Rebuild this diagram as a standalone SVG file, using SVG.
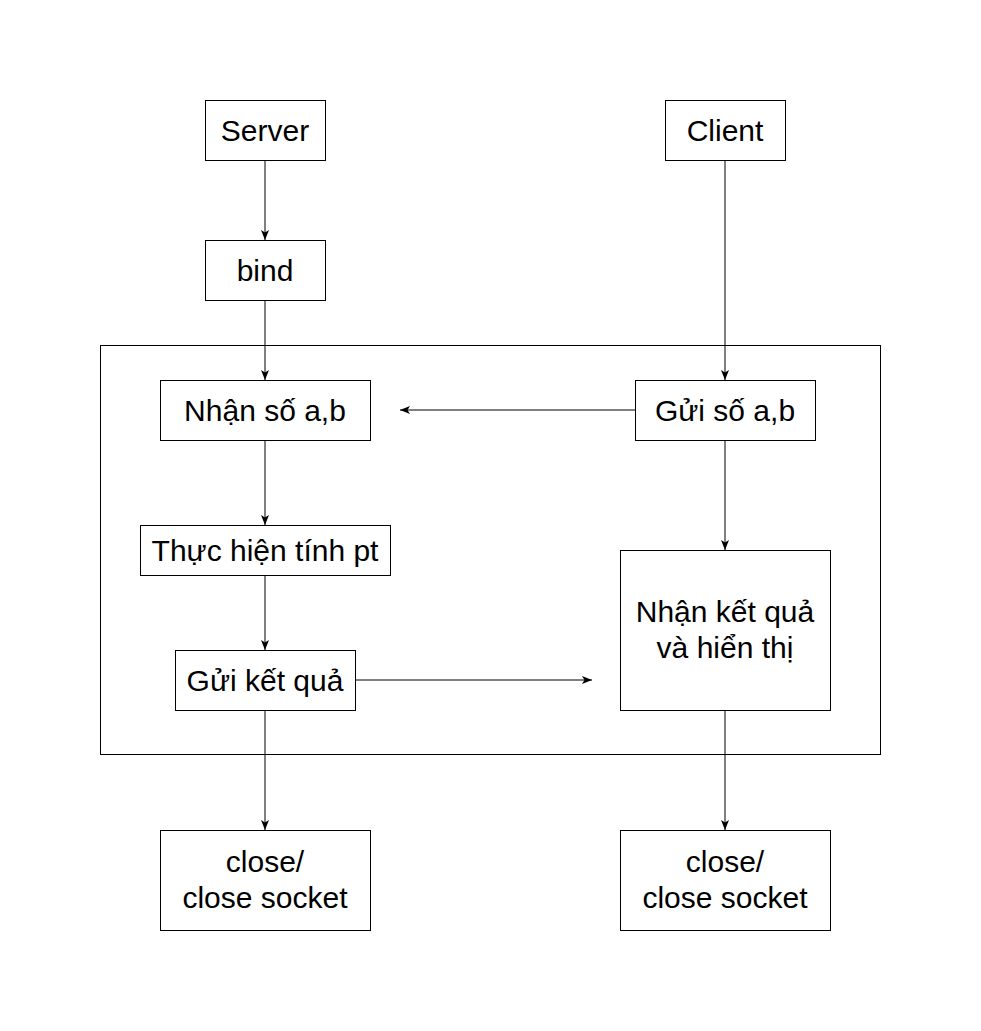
<svg xmlns="http://www.w3.org/2000/svg" width="981" height="1031" viewBox="0 0 981 1031">
<style>
.box{fill:#ffffff;stroke:#000000;stroke-width:1}
.frame{fill:none;stroke:#000000;stroke-width:1}
.lbl{font-family:"Liberation Sans",Arial,Helvetica,sans-serif;font-size:30px;fill:#000000;text-anchor:middle}
.edge{fill:none;stroke:#000000;stroke-width:1}
</style>
<defs>
<marker id="arr" markerUnits="userSpaceOnUse" markerWidth="12" markerHeight="10" viewBox="0 0 12 10" refX="10" refY="5" orient="auto">
<path d="M0,1 L10,5 L0,9 L2.5,5 Z" fill="#000000"/>
</marker>
</defs>
<rect width="981" height="1031" fill="#ffffff"/>
<g id="container"><rect class="frame" x="100.5" y="345.5" width="780" height="409"/></g>
<g id="connectors">
<path class="edge" d="M265,160 L265,240" marker-end="url(#arr)"/>
<path class="edge" d="M265,300 L265,380" marker-end="url(#arr)"/>
<path class="edge" d="M725,160 L725,380" marker-end="url(#arr)"/>
<path class="edge" d="M635,410 L400,410" marker-end="url(#arr)"/>
<path class="edge" d="M265,440 L265,525" marker-end="url(#arr)"/>
<path class="edge" d="M725,440 L725,550" marker-end="url(#arr)"/>
<path class="edge" d="M265,575 L265,650" marker-end="url(#arr)"/>
<path class="edge" d="M355,680 L592,680" marker-end="url(#arr)"/>
<path class="edge" d="M265,710 L265,830" marker-end="url(#arr)"/>
<path class="edge" d="M725,710 L725,830" marker-end="url(#arr)"/>
</g>
<g id="server"><rect class="box" x="205.5" y="100.5" width="120" height="60"/><text class="lbl" x="265" y="141">Server</text></g>
<g id="client"><rect class="box" x="665.5" y="100.5" width="120" height="60"/><text class="lbl" x="725" y="141">Client</text></g>
<g id="bind"><rect class="box" x="205.5" y="240.5" width="120" height="60"/><text class="lbl" x="265" y="281">bind</text></g>
<g id="nhan-so"><rect class="box" x="160.5" y="380.5" width="210" height="60"/><text class="lbl" x="265" y="421">Nhận số a,b</text></g>
<g id="gui-so"><rect class="box" x="635.5" y="380.5" width="180" height="60"/><text class="lbl" x="725" y="421">Gửi số a,b</text></g>
<g id="thuc-hien"><rect class="box" x="140.5" y="525.5" width="250" height="50"/><text class="lbl" x="265" y="561">Thực hiện tính pt</text></g>
<g id="gui-ket-qua"><rect class="box" x="175.5" y="650.5" width="180" height="60"/><text class="lbl" x="265" y="691">Gửi kết quả</text></g>
<g id="nhan-ket-qua"><rect class="box" x="620.5" y="550.5" width="210" height="160"/><text class="lbl" x="725" y="622">Nhận kết quả</text><text class="lbl" x="725" y="658">và hiển thị</text></g>
<g id="close-server"><rect class="box" x="160.5" y="830.5" width="210" height="100"/><text class="lbl" x="265" y="872">close/</text><text class="lbl" x="265" y="908">close socket</text></g>
<g id="close-client"><rect class="box" x="620.5" y="830.5" width="210" height="100"/><text class="lbl" x="725" y="872">close/</text><text class="lbl" x="725" y="908">close socket</text></g>
</svg>
